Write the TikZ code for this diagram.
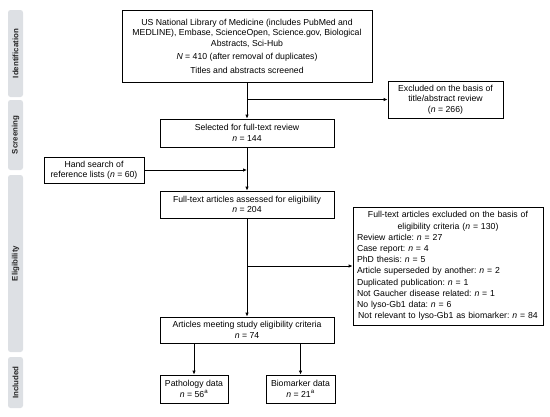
\documentclass[tikz,border=0pt]{standalone}
\usepackage{fontspec}
\setmainfont{Liberation Sans}
\usepackage{tikz}
\usetikzlibrary{arrows.meta}
\usetikzlibrary{calc,positioning}
\definecolor{stagegray}{HTML}{DDE0E4}
\newcommand{\nn}{\textit{n}}
\frenchspacing

\begin{document}
\begin{tikzpicture}[>={Latex[length=4pt,width=3.5pt]}, x=1pt, y=-1pt,
    flowbox/.style={draw, line width=0.8pt, align=center, inner sep=2pt,
        font=\fontsize{8.7}{10.5}\selectfont},
    stage/.style={fill=stagegray, rounded corners=2.5pt, minimum height=15pt,
        rotate=90, inner sep=0pt, text=black!85,
        font=\fontsize{7.9}{8}\selectfont\bfseries},
    flow/.style={->, line width=0.8pt}]

    \useasboundingbox (0,0) rectangle (550,416);

    % stages on the left
    \node[stage, minimum width=87pt] (identification) at (15.5,53.5) {Identification};
    \node[stage, minimum width=70pt] (screening) at (15.5,135) {Screening};
    \node[stage, minimum width=177pt] (eligibility) at (15.5,263.5) {Eligibility};
    \node[stage, minimum width=51pt] (included) at (15.5,382.5) {Included};

    % boxes
    \node[flowbox, minimum width=250pt, minimum height=72pt] (search) at (247,46)
        {US National Library of Medicine (includes PubMed and\\
         MEDLINE), Embase, ScienceOpen, Science.gov, Biological\\
         Abstracts, Sci-Hub\\[3pt]
         \textit{N} = 410 (after removal of duplicates)\\[3pt]
         Titles and abstracts screened};
    \node[flowbox, minimum width=115pt, minimum height=37pt] (excltitle) at (445.5,99.5)
        {Excluded on the basis of\\ title/abstract review\\ (\nn{} = 266)};
    \node[flowbox, minimum width=174pt, minimum height=28pt] (selected) at (247,133)
        {Selected for full-text review\\ \nn{} = 144};
    \node[flowbox, minimum width=100pt, minimum height=26pt] (hand) at (94,170)
        {Hand search of\\ reference lists (\nn{} = 60)};
    \node[flowbox, minimum width=174pt, minimum height=27pt] (assessed) at (247,204.5)
        {Full-text articles assessed for eligibility\\ \nn{} = 204};
    \node[flowbox, text width=182pt, minimum height=118pt, inner sep=4pt,
        font=\fontsize{8.7}{11.2}\selectfont] (exclfull) at (448,266)
        {\centering Full-text articles excluded on the basis of\\
         eligibility criteria (\nn{} = 130)\par\raggedright
         Review article: \nn{} = 27\\
         Case report: \nn{} = 4\\
         PhD thesis: \nn{} = 5\\
         Article superseded by another: \nn{} = 2\\
         Duplicated publication: \nn{} = 1\\
         Not Gaucher disease related: \nn{} = 1\\
         No lyso-Gb1 data: \nn{} = 6\\
         Not relevant to lyso-Gb1 as biomarker: \nn{} = 84};
    \node[flowbox, minimum width=174pt, minimum height=26pt] (meeting) at (247,330)
        {Articles meeting study eligibility criteria\\ \nn{} = 74};
    \node[flowbox, minimum width=68pt, minimum height=28pt] (pathology) at (194,389)
        {Pathology data\\ \nn{} = 56\textsuperscript{a}};
    \node[flowbox, minimum width=69pt, minimum height=28pt] (biomarker) at (300.5,389)
        {Biomarker data\\ \nn{} = 21\textsuperscript{a}};

    % connectors
    \draw[flow] (search) -- (selected);
    \draw[flow] (search.south |- excltitle.west) -- (excltitle.west);
    \draw[flow] (hand.east) -- (search.south |- hand.east);
    \draw[flow] (selected) -- (assessed);
    \draw[flow] (assessed) -- (meeting);
    \draw[flow] (assessed.south |- exclfull.west) -- (exclfull.west);
    \draw[flow] (meeting.south -| pathology.north) -- (pathology.north);
    \draw[flow] (meeting.south -| biomarker.north) -- (biomarker.north);

\end{tikzpicture}
\end{document}
